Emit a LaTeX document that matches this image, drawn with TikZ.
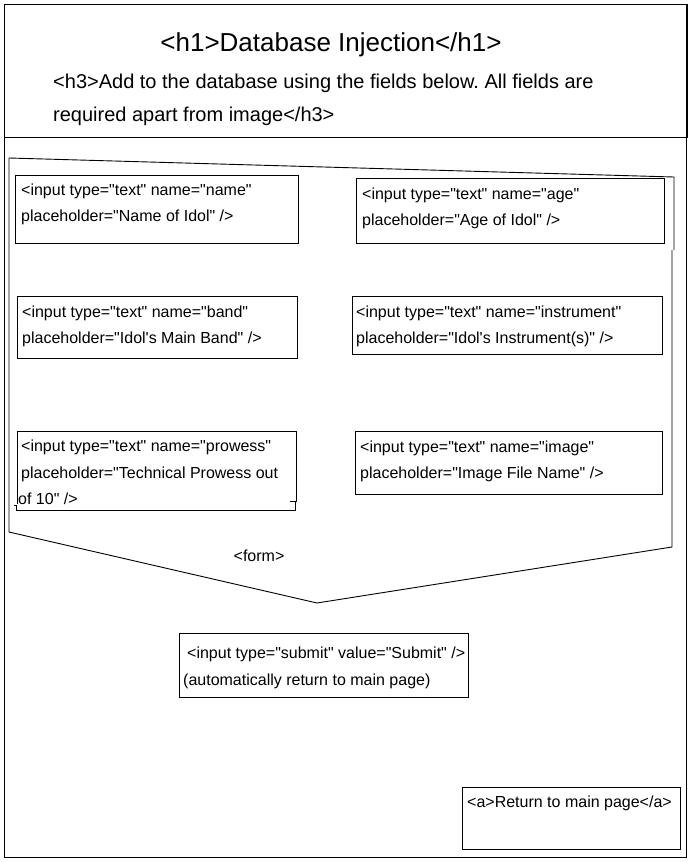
\documentclass[tikz,border=0pt]{standalone}
\usepackage{fontspec}
\setmainfont{Liberation Sans}[Ligatures=TeXOff]
\frenchspacing
\begin{document}
\begin{tikzpicture}[x=1pt,y=-1pt,
  frame/.style={draw=black,line width=1pt},
  box/.style={draw=black,line width=0.9pt,inner sep=0pt,anchor=north west},
  outline/.style={draw=black,line width=0.9pt},
  txt/.style={anchor=base west,inner sep=0pt,font=\fontsize{16}{18}\selectfont},
  h1txt/.style={anchor=base,inner sep=0pt,font=\fontsize{26}{30}\selectfont},
  h3txt/.style={anchor=base west,inner sep=0pt,font=\fontsize{20}{24}\selectfont}]
\useasboundingbox (0,0) rectangle (695,862);
\fill[white] (0,0) rectangle (695,862);
% outer page
\node[box,frame,minimum width=682pt,minimum height=853pt] (page) at (4,4) {};
% header
\node[box,frame,minimum width=683pt,minimum height=133pt] (header) at (4,4) {};
\node[h1txt] (title) at (331,51) {<h1>Database Injection</h1>};
\node[h3txt] (sub1) at (53,88) {<h3>Add to the database using the fields below. All fields are};
\node[h3txt] (sub2) at (53,121) {required apart from image</h3>};
% form outline
\coordinate (ftl) at (9,158);
\coordinate (ftr) at (674,177);
\coordinate (fj1) at (674,250);
\coordinate (fj2) at (672,250);
\coordinate (fbr) at (672,547);
\coordinate (fbot) at (317,603);
\coordinate (fbl) at (9,532);
\draw[outline] (fj1) -- (ftr) -- (ftl) -- (fbl) -- (fbot) -- (fbr) -- (fj2);
\node[inner sep=0pt,anchor=base,font=\fontsize{16}{18}\selectfont] (form) at (259,561) {<form>};
% input boxes
\node[box,minimum width=283pt,minimum height=68pt] (bname) at (15,175) {};
\node[txt] (tname1) at (21,195) {<input type="text" name="name"};
\node[txt] (tname2) at (21,221) {placeholder="Name of Idol" />};

\node[box,minimum width=308pt,minimum height=65pt] (bage) at (356,178) {};
\node[txt] (tage1) at (362,199) {<input type="text" name="age"};
\node[txt] (tage2) at (362,225) {placeholder="Age of Idol" />};

\node[box,minimum width=280pt,minimum height=62pt] (bband) at (17,296) {};
\node[txt] (tband1) at (22,317) {<input type="text" name="band"};
\node[txt] (tband2) at (22,343) {placeholder="Idol's Main Band" />};

\node[box,minimum width=310pt,minimum height=58pt] (binst) at (352,296) {};
\node[txt] (tinst1) at (356,317) {<input type="text" name="instrument"};
\node[txt] (tinst2) at (356,343) {placeholder="Idol's Instrument(s)" />};

% prowess box (hand-drawn, slightly broken outline)
\coordinate (pa) at (17,504);
\coordinate (pb) at (17,431);
\coordinate (pc) at (296,431);
\coordinate (pd) at (296,501);
\coordinate (pe) at (290,501);
\coordinate (pf) at (295,502);
\coordinate (pg) at (295,510);
\coordinate (ph) at (16,510);
\coordinate (pi) at (16,505);
\coordinate (pj) at (14,505);
\draw[outline] (pa) -- (pb) -- (pc) -- (pd) -- (pe);
\draw[outline] (pf) -- (pg) -- (ph) -- (pi) -- (pj);
\node[txt] (tprow1) at (21,451) {<input type="text" name="prowess"};
\node[txt] (tprow2) at (21,478) {placeholder="Technical Prowess out};
\node[txt] (tprow3) at (18,504) {of 10" />};

\node[box,minimum width=307pt,minimum height=63pt] (bimg) at (355,431) {};
\node[txt] (timg1) at (360,452) {<input type="text" name="image"};
\node[txt] (timg2) at (360,478) {placeholder="Image File Name" />};

% submit
\node[box,minimum width=289pt,minimum height=64pt] (bsub) at (179,633) {};
\node[txt] (tsub1) at (187,658) {<input type="submit" value="Submit" />};
\node[txt] (tsub2) at (183,685) {(automatically return to main page)};

% return link
\node[box,minimum width=218pt,minimum height=62pt] (bret) at (462,787) {};
\node[txt] (tret) at (467,807) {<a>Return to main page</a>};
\end{tikzpicture}
\end{document}
